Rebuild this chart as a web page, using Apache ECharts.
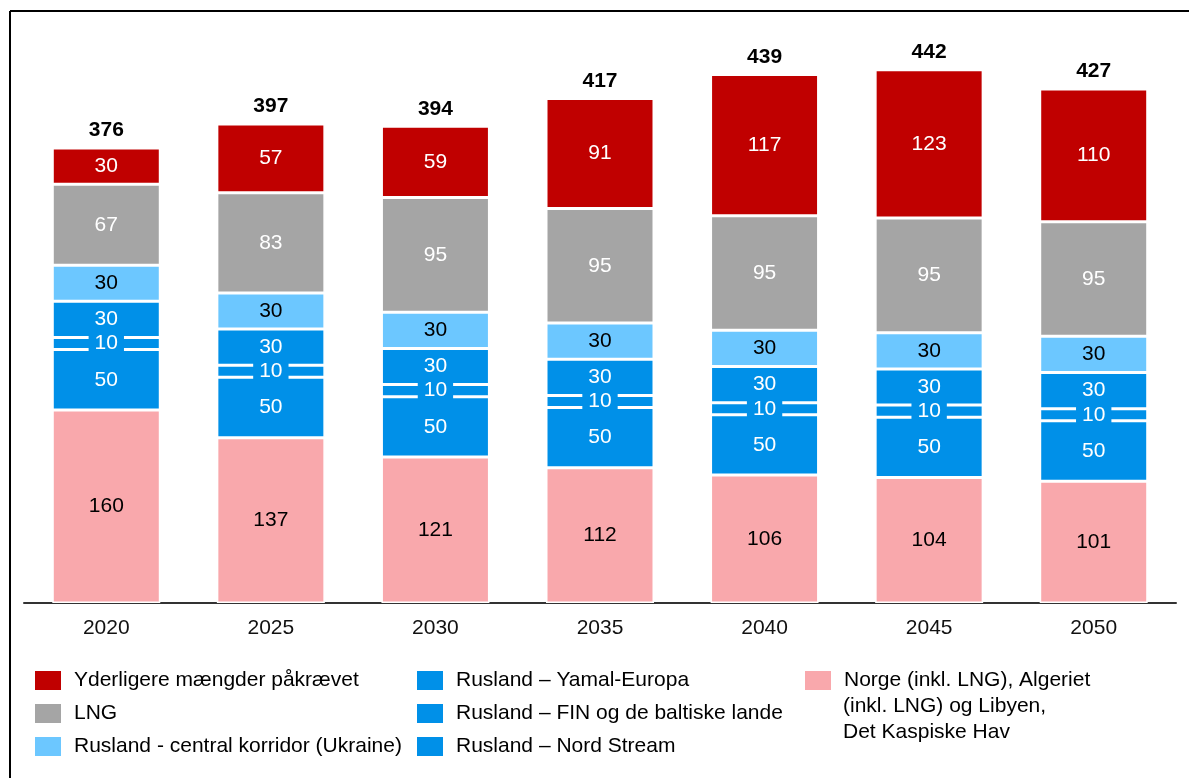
<!DOCTYPE html>
<html>
<head>
<meta charset="utf-8">
<script src="https://cdn.jsdelivr.net/npm/echarts@6/dist/echarts.min.js"></script>
<style>
  html, body { margin: 0; padding: 0; background: #fff; }
  #chart { width: 1189px; height: 778px; }
</style>
</head>
<body>
<div id="chart"></div>
<script>
let chart = echarts.init(document.getElementById('chart'));

let years = ['2020', '2025', '2030', '2035', '2040', '2045', '2050'];
let norge = [160, 137, 121, 112, 106, 104, 101];
let nordStream = [50, 50, 50, 50, 50, 50, 50];
let finBaltic = [10, 10, 10, 10, 10, 10, 10];
let yamal = [30, 30, 30, 30, 30, 30, 30];
let central = [30, 30, 30, 30, 30, 30, 30];
let lng = [67, 83, 95, 95, 95, 95, 95];
let extra = [30, 57, 59, 91, 117, 123, 110];
let totals = [376, 397, 394, 417, 439, 442, 427];

let nameExtra = 'Yderligere mængder påkrævet';
let nameLng = 'LNG';
let nameCentral = 'Rusland - central korridor (Ukraine)';
let nameYamal = 'Rusland – Yamal-Europa';
let nameFin = 'Rusland – FIN og de baltiske lande';
let nameNord = 'Rusland – Nord Stream';
let nameNorge = 'Norge (inkl. LNG), Algeriet\n(inkl. LNG) og Libyen,\nDet Kaspiske Hav';

const RED = '#c00000';
const GREY = '#a5a5a5';
const LIGHTBLUE = '#6cc7ff';
const BLUE = '#0090e8';
const PINK = '#f9a8ac';
const FONT = 'Liberation Sans';

function seg(name, data, color, labelColor, extraLabel) {
  return {
    name: name,
    type: 'bar',
    stack: 'total',
    barWidth: 108,
    data: data,
    itemStyle: { color: color, borderColor: '#fff', borderWidth: 1.5 },
    label: Object.assign({
      show: true,
      position: 'inside',
      color: labelColor,
      fontSize: 21,
      fontFamily: FONT
    }, extraLabel || {})
  };
}

let legendText = { fontSize: 21, lineHeight: 21, color: '#000', fontFamily: FONT, padding: [0, 0, 0, 7] };

function legendCol(left, names, fmt) {
  return {
    orient: 'vertical', left: left, top: 669, padding: 0,
    itemWidth: 28, itemHeight: 21, itemGap: 10,
    icon: 'rect', textStyle: legendText,
    formatter: fmt,
    data: names
  };
}

let options = {
  animation: false,
  textStyle: { fontFamily: FONT },
  grid: { left: 24, right: 13, top: 60, bottom: 175 },
  xAxis: {
    type: 'category',
    data: years,
    axisLine: { lineStyle: { color: '#333', width: 2 } },
    axisTick: { show: false },
    axisLabel: { fontSize: 21, color: '#111', margin: 15, fontFamily: FONT }
  },
  yAxis: {
    type: 'value',
    min: 0,
    max: 450,
    show: false,
    splitLine: { show: false }
  },
  legend: [
    legendCol(33, [nameExtra, nameLng, nameCentral]),
    legendCol(415, [nameYamal, nameFin, nameNord]),
    legendCol(803, [nameNorge], name => name.split('\n')[0])
  ],
  graphic: [
    { type: 'line', shape: { x1: 10, y1: 11, x2: 1189, y2: 11 }, style: { stroke: '#000', lineWidth: 2 } },
    { type: 'line', shape: { x1: 10, y1: 11, x2: 10, y2: 778 }, style: { stroke: '#000', lineWidth: 2 } },
    {
      type: 'text', left: 843, top: 693,
      style: {
        text: nameNorge.split('\n').slice(1).join('\n'),
        fontSize: 21, lineHeight: 26, fill: '#000', fontFamily: FONT
      }
    }
  ],
  series: [
    seg(nameNorge, norge, PINK, '#000'),
    seg(nameNord, nordStream, BLUE, '#fff'),
    seg(nameFin, finBaltic, BLUE, '#fff', { backgroundColor: BLUE, padding: [0, 6], lineHeight: 19 }),
    seg(nameYamal, yamal, BLUE, '#fff'),
    seg(nameCentral, central, LIGHTBLUE, '#000'),
    seg(nameLng, lng, GREY, '#fff'),
    seg(nameExtra, extra, RED, '#fff'),
    {
      name: 'Total',
      type: 'bar',
      stack: 'total',
      barWidth: 108,
      data: totals.map(() => 0),
      itemStyle: { color: 'transparent' },
      label: {
        show: true,
        position: 'top',
        distance: 7,
        fontSize: 21,
        fontWeight: 'bold',
        color: '#000',
        fontFamily: FONT,
        formatter: p => totals[p.dataIndex]
      }
    }
  ]
};

chart.setOption(options);
</script>
</body>
</html>
